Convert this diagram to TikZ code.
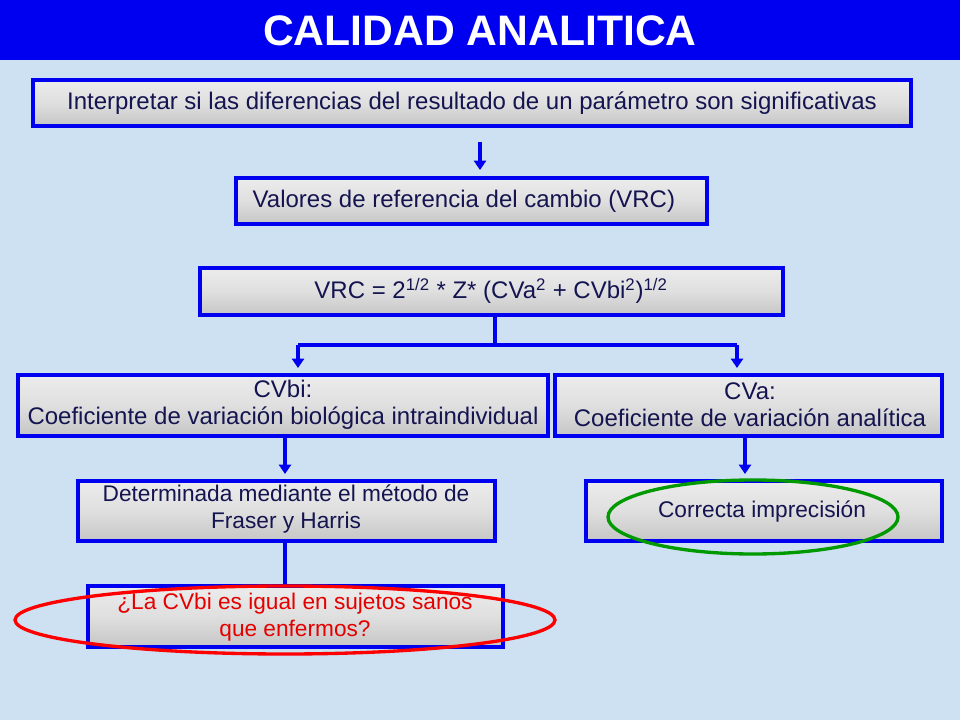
\documentclass[tikz,border=0pt]{standalone}
\usepackage{fontspec}
\setmainfont{Liberation Sans}
\usetikzlibrary{arrows.meta}
\definecolor{bblue}{RGB}{0,0,240}
\definecolor{bgblue}{RGB}{205,225,242}
\definecolor{navy}{RGB}{20,20,80}
\begin{document}
\begin{tikzpicture}[x=0.75pt,y=-0.75pt,
  box/.style={draw=bblue,line width=2.4pt,top color=gray!15,bottom color=gray!45,middle color=gray!25,inner sep=0pt},
  txt/.style={font=\fontsize{18pt}{20.5pt}\selectfont,align=center,text=navy},
  stxt/.style={txt,font=\fontsize{17pt}{20pt}\selectfont},
  conn/.style={draw=bblue,line width=3pt},
  arr/.style={conn,-{Triangle[length=7pt,width=9pt]}}]
\useasboundingbox (0,0) rectangle (960,720);
\fill[bgblue] (0,0) rectangle (960,720);
\fill[bblue] (0,0) rectangle (960,60);
\node[white,font=\bfseries\fontsize{32pt}{36pt}\selectfont] (title) at (480,31) {CALIDAD ANALITICA};
\path[box] (33,80) rectangle (911,126);
\node[txt] (b1) at (472,103) {Interpretar si las diferencias del resultado de un parámetro son significativas};
\path[box] (236,178) rectangle (707,224);
\node[txt,anchor=west] (b2) at (248,201) {Valores de referencia del cambio (VRC)};
\path[box] (200,268) rectangle (783,315);
\node[txt] (b3) at (491,291) {VRC = 2\textsuperscript{1/2} * Z* (CVa\textsuperscript{2} + CVbi\textsuperscript{2})\textsuperscript{1/2}};
\path[box] (18,375) rectangle (548,436);
\node[txt] (b4) at (283,405) {CVbi:\\Coeficiente de variación\ biológica intraindividual};
\path[box] (555,375) rectangle (942,436);
\node[txt] (b5) at (750,405) {CVa:\\Coeficiente de variación analítica};
\path[box] (78,481) rectangle (495,541);
\node[stxt] (b6) at (286,509) {Determinada mediante el método de\\Fraser y Harris};
\path[box] (586,481) rectangle (942,541);
\node[stxt] (b7) at (762,512) {Correcta imprecisión};
\path[box] (88,586) rectangle (503,647);
\node[stxt,text=red!90!black] (b8) at (295,617) {¿La CVbi es igual en sujetos sanos\\que enfermos?};
\coordinate (a1) at (480,142); \coordinate (a2) at (480,170);
\draw[arr] (a1) -- (a2);
\coordinate (j) at (495,317); \coordinate (jm) at (495,345);
\coordinate (l) at (298,345); \coordinate (r) at (737,345);
\coordinate (ld) at (298,368); \coordinate (rd) at (737,368);
\draw[conn] (j) -- (jm);
\draw[conn] (l) -- (r);
\draw[arr] (l) -- (ld);
\draw[arr] (r) -- (rd);
\coordinate (c1) at (285,438); \coordinate (c2) at (285,474);
\coordinate (d1) at (745,438); \coordinate (d2) at (745,474);
\draw[arr] (c1) -- (c2);
\draw[arr] (d1) -- (d2);
\coordinate (e1) at (285,543); \coordinate (e2) at (285,588);
\draw[conn] (e1) -- (e2);
\draw[red,line width=2.5pt] (285,620) ellipse [x radius=270,y radius=34];
\draw[green!60!black,line width=2.5pt] (753,517) ellipse [x radius=145,y radius=37];
\end{tikzpicture}
\end{document}
